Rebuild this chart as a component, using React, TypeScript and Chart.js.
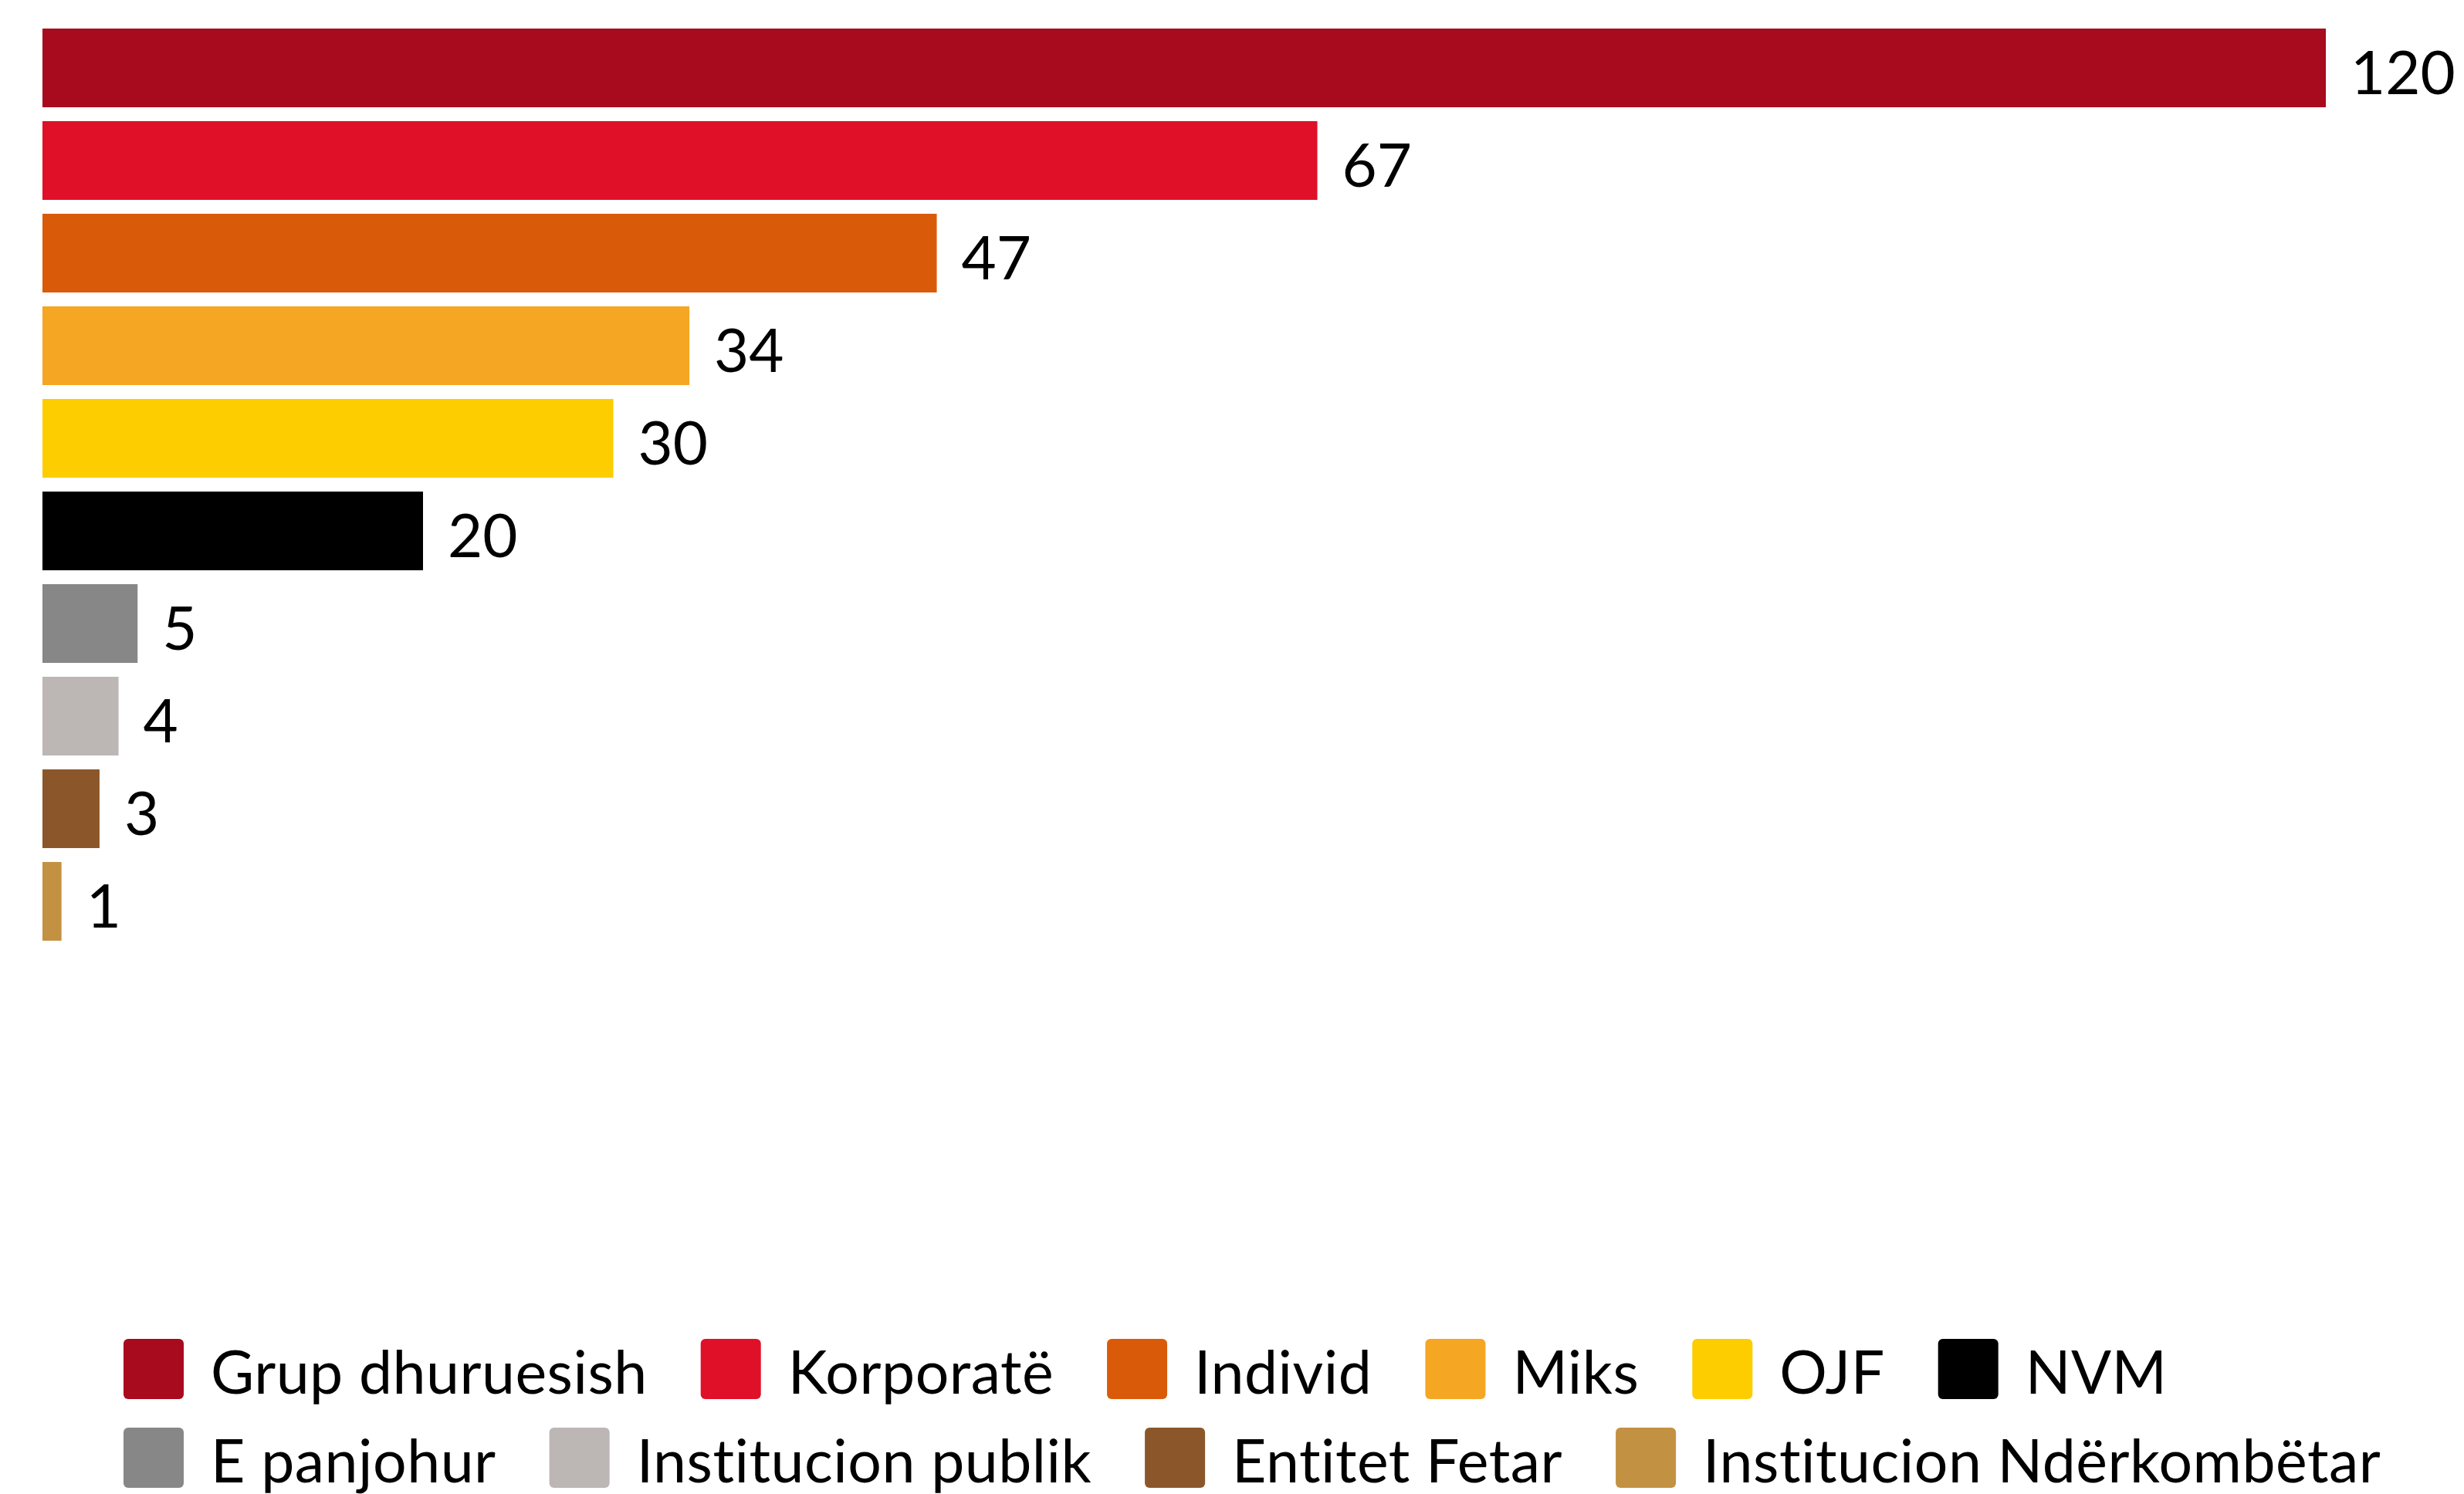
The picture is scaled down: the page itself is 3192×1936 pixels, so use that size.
import React, { useEffect, useRef } from "react";
import { Chart, registerables } from "chart.js";

Chart.register(...registerables);

const categories = [
  "Grup dhuruesish",
  "Korporatë",
  "Individ",
  "Miks",
  "OJF",
  "NVM",
  "E panjohur",
  "Institucion publik",
  "Entitet Fetar",
  "Institucion Ndërkombëtar",
];
const values = [120, 67, 47, 34, 30, 20, 5, 4, 3, 1];
const colors = [
  "#A80A1E",
  "#DF1028",
  "#D95B09",
  "#F5A623",
  "#FDCD00",
  "#000000",
  "#878787",
  "#BCB6B5",
  "#8B572A",
  "#C39142",
];
const xMin = 0;
const xMax = 120;

const FONT = "Lato, 'Noto Sans', sans-serif";

const valueLabelPlugin = {
  id: "valueLabels",
  afterDatasetsDraw(chart: any) {
    const ctx = chart.ctx;
    const meta = chart.getDatasetMeta(0);
    const ds = chart.data.datasets[0];
    ctx.save();
    ctx.font = `78px ${FONT}`;
    ctx.fillStyle = "#000000";
    ctx.textAlign = "left";
    ctx.textBaseline = "alphabetic";
    meta.data.forEach((el: any, i: number) => {
      ctx.fillText(String(ds.data[i]), el.x + 32, el.y + 34);
    });
    ctx.restore();
  },
};

const customLegendPlugin = {
  id: "customLegend",
  afterDraw(chart: any) {
    const ctx = chart.ctx;
    const labels: string[] = chart.data.labels;
    const bg: string[] = chart.data.datasets[0].backgroundColor;
    const fontSize = 77;
    const boxW = 78;
    const boxH = 78;
    const textGap = 35;
    const itemGap = 69;
    const rowPitch = 115;
    const startX = 152;
    const startY = 1727;
    const maxRight = chart.width - 4;
    ctx.save();
    ctx.font = `${fontSize}px ${FONT}`;
    try {
      (ctx as any).letterSpacing = "0.5px";
    } catch (e) {}
    ctx.textAlign = "left";
    ctx.textBaseline = "alphabetic";
    let x = startX;
    let y = startY;
    labels.forEach((label, i) => {
      const tw = ctx.measureText(label).width;
      const w = boxW + textGap + tw;
      if (i > 0 && x + w > maxRight) {
        x = startX;
        y += rowPitch;
      }
      ctx.fillStyle = bg[i];
      ctx.beginPath();
      ctx.roundRect(x, y, boxW, boxH, 6);
      ctx.fill();
      ctx.fillStyle = "#000000";
      ctx.fillText(label, x + boxW + textGap, y + boxH / 2 + 32);
      x += w + itemGap;
    });
    ctx.restore();
  },
};

export default function App() {
  const canvasRef = useRef<HTMLCanvasElement | null>(null);

  useEffect(() => {
    document.documentElement.style.overflow = "hidden";
    document.body.style.overflow = "hidden";
    if (!canvasRef.current) return;
    const chart = new Chart(canvasRef.current, {
      type: "bar",
      data: {
        labels: categories,
        datasets: [
          {
            data: values,
            backgroundColor: colors,
            borderWidth: 0,
            barPercentage: 0.85,
            categoryPercentage: 1,
          },
        ],
      },
      options: {
        indexAxis: "y",
        responsive: true,
        maintainAspectRatio: false,
        animation: false,
        layout: {
          padding: { left: 47, top: 20, right: 171, bottom: 708 },
        },
        scales: {
          x: { display: false, min: xMin, max: xMax },
          y: { display: false },
        },
        plugins: {
          legend: { display: false },
          tooltip: { enabled: false },
        },
      },
      plugins: [valueLabelPlugin, customLegendPlugin],
    });
    if ((document as any).fonts && (document as any).fonts.ready) {
      (document as any).fonts.ready.then(() => chart.draw());
    }
    return () => chart.destroy();
  }, []);

  return (
    <div style={{ width: 3176, height: 1928, position: "relative" }}>
      <canvas ref={canvasRef} />
    </div>
  );
}
